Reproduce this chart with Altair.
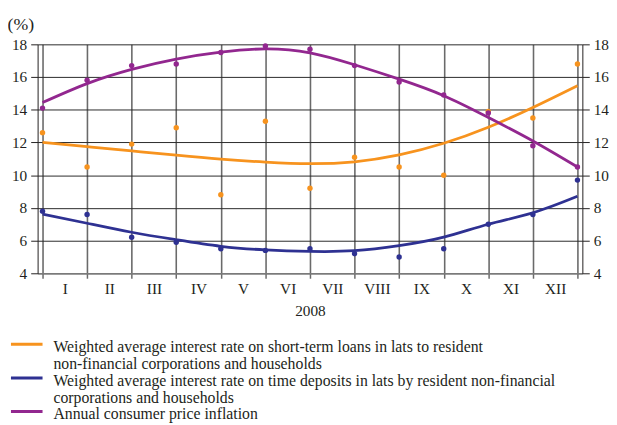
import altair as alt
import pandas as pd

# month boundaries (end of Dec 2007 ... end of Dec 2008)
positions = list(range(13))
month_labels = ["I", "II", "III", "IV", "V", "VI", "VII", "VIII", "IX", "X", "XI", "XII"]
x_title = "2008"
y_title = "(%)"
y_ticks = [4, 6, 8, 10, 12, 14, 16, 18]

series_names = ["loans", "deposits", "cpi"]
series_colors = ["#f7931e", "#2e3192", "#92278f"]

loans_points = [12.6, 10.5, 11.9, 12.9, 8.8, 13.3, 9.2, 11.1, 10.5, 10.0, 13.9, 13.5, 16.8]
loans_trend = [12.0, 11.74, 11.48, 11.22, 10.98, 10.8, 10.7, 10.82, 11.24, 11.95, 12.93, 14.14, 15.47]
deposits_points = [7.8, 7.6, 6.2, 5.9, 5.5, 5.4, 5.5, 5.2, 5.0, 5.5, 7.0, 7.6, 9.7]
deposits_trend = [7.62, 7.06, 6.51, 6.05, 5.65, 5.43, 5.34, 5.38, 5.69, 6.21, 7.0, 7.7, 8.71]
cpi_points = [14.1, 15.8, 16.7, 16.8, 17.5, 17.9, 17.7, 16.7, 15.7, 14.9, 13.8, 11.8, 10.5]
cpi_trend = [14.44, 15.6, 16.47, 17.1, 17.52, 17.72, 17.48, 16.75, 15.87, 14.86, 13.53, 12.09, 10.5]

legend_entries = [
    ["Weighted average interest rate on short-term loans in lats to resident",
     "non-financial corporations and households"],
    ["Weighted average interest rate on time deposits in lats by resident non-financial",
     "corporations and households"],
    ["Annual consumer price inflation"],
]

FONT = "Liberation Serif"
TEXT = "#231f20"

pts = pd.concat([
    pd.DataFrame({"pos": positions, "value": v, "series": s})
    for s, v in zip(series_names, [loans_points, deposits_points, cpi_points])
], ignore_index=True)
trd = pd.concat([
    pd.DataFrame({"pos": positions, "value": v, "series": s})
    for s, v in zip(series_names, [loans_trend, deposits_trend, cpi_trend])
], ignore_index=True)

label_arr = "[" + ",".join("'" + m + "'" for m in month_labels) + "]"
x_values = [i / 2 for i in range(2 * len(month_labels) + 1)]

x_enc = alt.X(
    "pos:Q",
    scale=alt.Scale(domain=[-0.11, 12.11], nice=False, zero=False),
    axis=alt.Axis(
        values=x_values,
        labelExpr="datum.value % 1 == 0.5 ? " + label_arr + "[floor(datum.value)] : ''",
        labelOverlap=False, labelFlush=False, labelPadding=3,
        tickOpacity={"condition": {"test": "datum.value % 1 == 0", "value": 1}, "value": 0},
        gridOpacity={"condition": {"test": "datum.value % 1 == 0", "value": 1}, "value": 0},
        grid=True, gridColor="#6a6a6a", gridWidth=1.6,
        tickColor="#6a6a6a", tickWidth=1.5, tickSize=5,
        domainColor="#7a7a7a", domainWidth=1.6,
        title=x_title, titlePadding=7,
    ),
)
y_scale = alt.Scale(domain=[4, 18], nice=False, zero=False)
color_enc = alt.Color("series:N", scale=alt.Scale(domain=series_names, range=series_colors), legend=None)

curves = alt.Chart(trd).mark_line(interpolate="natural", strokeWidth=2.8).encode(
    x=x_enc,
    y=alt.Y("value:Q", scale=y_scale, axis=alt.Axis(
        orient="right", values=y_ticks, grid=False, title=None,
        domainColor=TEXT, tickColor=TEXT, tickSize=7, labelPadding=4)),
    color=color_enc,
)

points = alt.Chart(pts).mark_circle(size=30, opacity=1).encode(
    x=x_enc,
    y=alt.Y("value:Q", scale=y_scale, axis=alt.Axis(
        orient="left", values=y_ticks, grid=True, gridColor="#2a2a2a", gridWidth=1,
        domainColor=TEXT, tickColor=TEXT, tickSize=7, labelPadding=4,
        title=y_title, titleAngle=0, titleX=-31, titleY=-20, titleAlign="left",
        titleBaseline="middle", titleFontSize=18)),
    color=color_enc,
    order=alt.Order("idx:Q"),
).transform_calculate(idx="indexof(['loans','deposits','cpi'], datum.series)")

# legend (drawn by hand as the reference has multi-line labels)
legend_layers = []
row_y0, row_h = 307, 17
row = 0
for entry, col in zip(legend_entries, series_colors):
    ly = row_y0 + row * row_h - 3
    legend_layers.append(
        alt.Chart(pd.DataFrame({"a": [0]})).mark_rule(color=col, strokeWidth=3).encode(
            x=alt.value(-27), x2=alt.value(5), y=alt.value(ly))
    )
    for line in entry:
        legend_layers.append(
            alt.Chart(pd.DataFrame({"t": [line]})).mark_text(
                align="left", baseline="middle", font=FONT, fontSize=16, color=TEXT
            ).encode(text="t:N", x=alt.value(16), y=alt.value(row_y0 + row * row_h))
        )
        row += 1

chart = alt.layer(curves, points, *legend_layers).resolve_axis(y="independent").properties(
    width=552, height=232,
    padding={"left": 30, "top": 34, "right": 27, "bottom": 159},
    autosize=alt.AutoSizeParams(type="none"),
).configure_view(stroke=None).configure_axis(
    labelFont=FONT, labelFontSize=15.5, labelColor=TEXT,
    titleFont=FONT, titleFontSize=15.5, titleColor=TEXT, titleFontWeight="normal",
)

chart.save("out.html", embed_options={"renderer": "svg", "actions": False})
